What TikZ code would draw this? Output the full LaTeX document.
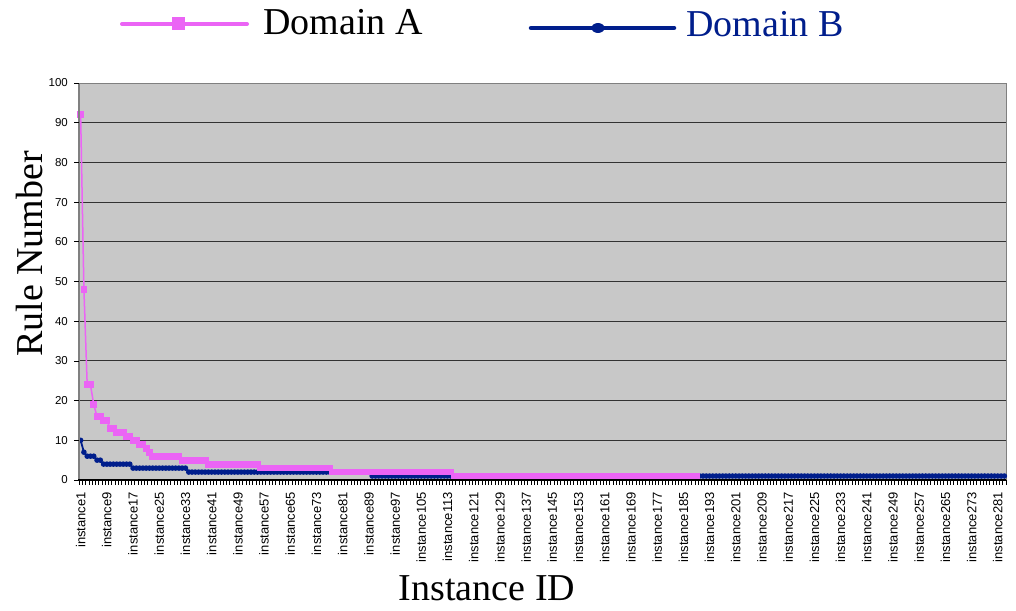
\documentclass[tikz,border=0pt]{standalone}
\usepackage{fontspec}
\setmainfont{Liberation Serif}
\newfontfamily\arialf{Liberation Sans}
\definecolor{magA}{RGB}{235,100,245}
\definecolor{navB}{RGB}{0,30,140}
\definecolor{plotbg}{RGB}{200,200,200}
\definecolor{gridc}{RGB}{50,50,50}
\newcommand\cx[1]{79+(#1-0.5)*3.27562}
\newcommand\cy[1]{480-3.97*#1}
\begin{document}
\begin{tikzpicture}[x=1pt,y=-1pt,
  bigtext/.style={inner sep=0pt, font=\fontsize{38}{38}\selectfont},
  ticklab/.style={inner sep=0pt, font=\arialf\fontsize{11.5}{11.5}\selectfont},
  catlab/.style={inner sep=0pt, rotate=90, anchor=east, font=\arialf\fontsize{13}{13}\selectfont},
  lineA/.style={magA, line width=1.5pt, line join=round},
  lineB/.style={navB, line width=1.8pt, line join=round}]
\useasboundingbox (0,0) rectangle (1016,610);
\fill[white] (0,0) rectangle (1016,610);
% plot area
\fill[plotbg] (79,83) rectangle (1006,480);
\foreach \v in {10,20,...,90} {
  \draw[gridc, line width=1.1pt] (79,{\cy{\v}}) -- (1006,{\cy{\v}});
}
\draw[gray, line width=0.8pt] (79,83) -- (1006,83) -- (1006,480);
% Domain B
\draw[lineB] ({\cx{1}},{\cy{10}})
  \foreach \s/\e/\v in {2/2/7,3/5/6,6/7/5,8/16/4,17/33/3,34/89/2,90/283/1} {
    -- ({\cx{\s}},{\cy{\v}}) -- ({\cx{\e}},{\cy{\v}}) };
\foreach \s/\e/\v in {1/1/10,2/2/7,3/5/6,6/7/5,8/16/4,17/33/3,34/89/2,90/283/1} {
  \foreach \i in {\s,...,\e} {
    \fill[navB] ({\cx{\i}},{\cy{\v}}) circle[radius=2.8pt];
  }
}
% Domain A
\draw[lineA] ({\cx{1}},{\cy{92}})
  \foreach \s/\e/\v in {2/2/48,3/4/24,5/5/19,6/7/16,8/9/15,10/11/13,12/14/12,15/16/11,17/18/10,19/20/9,21/21/8,22/22/7,23/31/6,32/39/5,40/55/4,56/77/3,78/114/2,115/189/1} {
    -- ({\cx{\s}},{\cy{\v}}) -- ({\cx{\e}},{\cy{\v}}) };
\foreach \s/\e/\v in {1/1/92,2/2/48,3/4/24,5/5/19,6/7/16,8/9/15,10/11/13,12/14/12,15/16/11,17/18/10,19/20/9,21/21/8,22/22/7,23/31/6,32/39/5,40/55/4,56/77/3,78/114/2,115/189/1} {
  \foreach \i in {\s,...,\e} {
    \fill[magA] ({\cx{\i}-3.4},{\cy{\v}-3.4}) rectangle +(6.8,6.8);
  }
}
% axes
\draw[gray, line width=2pt] (79,83) -- (79,481);
\draw[black, line width=1.2pt] (78,480) -- (1006,480);
\foreach \k in {0,...,283} {
  \draw[black, line width=0.6pt] ({79+\k*3.27562},480) -- ({79+\k*3.27562},485);
}
\foreach \v in {0,10,...,100} {
  \draw[black, line width=0.8pt] (74,{\cy{\v}}) -- (79,{\cy{\v}});
  \node[ticklab, anchor=east] (yl\v) at (68,{\cy{\v}}) {\v};
}
\foreach \i in {1,9,...,281} {
  \node[catlab] (xl\i) at ({\cx{\i}},492) {instance\i};
}
% axis titles
\node[bigtext, rotate=90, anchor=base] (ytitle) at (42,254) {Rule Number};
\node[bigtext, anchor=base] (xtitle) at (487,600) {Instance ID};
% legend
\draw[magA, line width=4pt, line cap=round] (122,24) -- (247,24);
\fill[magA] (172,17.5) rectangle (185,30.5);
\node[bigtext, anchor=base west] (legA) at (263,35) {Domain A};
\draw[navB, line width=4.5pt, line cap=round] (531,28) -- (674,28);
\fill[navB] (598,28) ellipse[x radius=6.5pt, y radius=5pt];
\node[bigtext, anchor=base west, text=navB] (legB) at (686,37) {Domain B};
\end{tikzpicture}
\end{document}
